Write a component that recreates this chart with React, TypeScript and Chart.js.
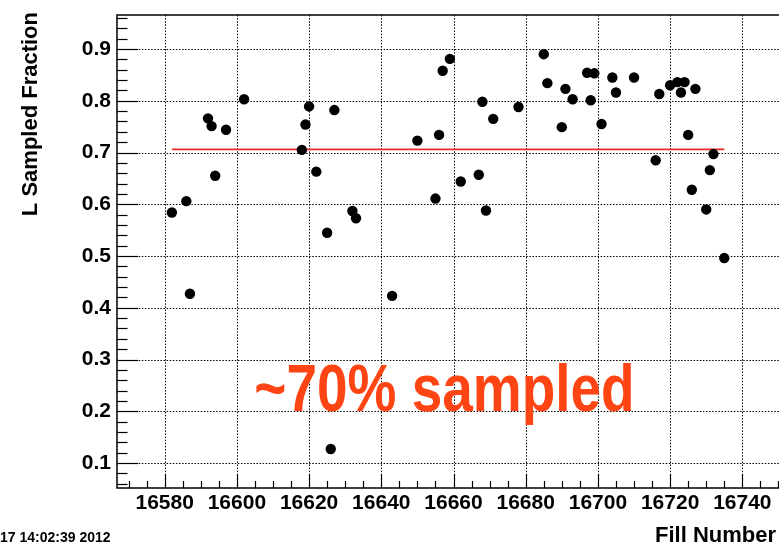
import React, { useEffect, useRef } from 'react';
import { Chart, registerables } from 'chart.js';

Chart.register(...registerables);

// ---- data ----
const fillNumbers = [
  16582, 16586, 16587, 16592, 16593, 16594, 16597, 16602, 16618, 16619,
  16620, 16622, 16625, 16626, 16627, 16632, 16633, 16643, 16650, 16655,
  16656, 16657, 16659, 16662, 16667, 16668, 16669, 16671, 16678, 16685,
  16686, 16690, 16691, 16693, 16697, 16698, 16699, 16701, 16704, 16705,
  16710, 16716, 16717, 16720, 16722, 16723, 16724, 16725, 16726, 16727,
  16730, 16731, 16732, 16735,
];
const sampledFractions = [
  0.584, 0.606, 0.427, 0.766, 0.751, 0.655, 0.744, 0.803, 0.705, 0.754,
  0.789, 0.663, 0.545, 0.127, 0.782, 0.587, 0.573, 0.423, 0.723, 0.611,
  0.734, 0.858, 0.881, 0.644, 0.657, 0.798, 0.588, 0.765, 0.788, 0.890,
  0.834, 0.749, 0.823, 0.803, 0.854, 0.801, 0.853, 0.755, 0.845, 0.816,
  0.845, 0.685, 0.813, 0.830, 0.836, 0.816, 0.836, 0.734, 0.628, 0.823,
  0.590, 0.666, 0.697, 0.496,
];
const meanFraction = 0.706;
const meanFillRange = [16582, 16735];

const xTickValues = [16580, 16600, 16620, 16640, 16660, 16680, 16700, 16720, 16740];
const yTickValues = [0.1, 0.2, 0.3, 0.4, 0.5, 0.6, 0.7, 0.8, 0.9];

const xAxisTitle = 'Fill Number';
const yAxisTitle = 'L Sampled Fraction';
const annotationText = '~70% sampled';
const annotationAt = { x: 16657.5, y: 0.2 };
const timestampText = '17 14:02:39 2012';

const X_MIN = 16566.8;
const X_MAX = 16753.2;
const Y_MIN = 0.0517;
const Y_MAX = 0.9657;

const FONT = '"Liberation Sans", Arial, Helvetica, sans-serif';

const framePlugin = {
  id: 'rootFrame',
  beforeDatasetsDraw(chart: any) {
    const { ctx, chartArea: a, scales } = chart;
    const xs = scales.x;
    const ys = scales.y;
    ctx.save();
    // dotted grid
    ctx.strokeStyle = '#000';
    ctx.lineWidth = 1;
    ctx.setLineDash([1.5, 1.6]);
    for (const v of xTickValues) {
      const px = Math.round(xs.getPixelForValue(v)) + 0.5;
      ctx.beginPath();
      ctx.moveTo(px, a.top);
      ctx.lineTo(px, a.bottom);
      ctx.stroke();
    }
    for (const v of yTickValues) {
      const py = Math.round(ys.getPixelForValue(v)) + 0.5;
      ctx.beginPath();
      ctx.moveTo(a.left, py);
      ctx.lineTo(a.right, py);
      ctx.stroke();
    }
    ctx.setLineDash([]);
    ctx.strokeStyle = '#000';
    ctx.lineWidth = 1.2;
    // y ticks (left, inward)
    for (let k = Math.ceil(Y_MIN / 0.02); k <= Math.floor(Y_MAX / 0.02); k++) {
      const py = Math.round(ys.getPixelForValue(k * 0.02)) + 0.5;
      const len = k % 5 === 0 ? 21 : 10.5;
      ctx.beginPath();
      ctx.moveTo(a.left, py);
      ctx.lineTo(a.left + len, py);
      ctx.stroke();
    }
    // x ticks (bottom, inward)
    for (let k = Math.ceil(X_MIN / 5); k <= Math.floor(X_MAX / 5); k++) {
      const px = Math.round(xs.getPixelForValue(k * 5)) + 0.5;
      const len = k % 4 === 0 ? 14 : 7;
      ctx.beginPath();
      ctx.moveTo(px, a.bottom);
      ctx.lineTo(px, a.bottom - len);
      ctx.stroke();
    }
    // frame
    ctx.lineWidth = 1.5;
    ctx.strokeRect(a.left, a.top, a.right - a.left, a.bottom - a.top);
    ctx.restore();
  },
  afterDatasetsDraw(chart: any) {
    const { ctx, scales } = chart;
    ctx.save();
    ctx.fillStyle = '#ff4514';
    ctx.font = 'bold 67px ' + FONT;
    ctx.textAlign = 'center';
    ctx.textBaseline = 'alphabetic';
    ctx.translate(
      scales.x.getPixelForValue(annotationAt.x),
      scales.y.getPixelForValue(annotationAt.y)
    );
    ctx.scale(0.82, 1);
    ctx.fillText(annotationText, 0, 0);
    ctx.restore();
  },
  afterDraw(chart: any) {
    const { ctx } = chart;
    ctx.save();
    ctx.fillStyle = '#000';
    // y axis title
    ctx.font = 'bold 22px ' + FONT;
    ctx.save();
    ctx.translate(37, 12);
    ctx.rotate(-Math.PI / 2);
    ctx.textAlign = 'right';
    ctx.textBaseline = 'alphabetic';
    ctx.fillText(yAxisTitle, 0, 0);
    ctx.restore();
    // x axis title
    ctx.textAlign = 'right';
    ctx.textBaseline = 'alphabetic';
    ctx.fillText(xAxisTitle, 776, 542);
    // timestamp
    ctx.font = 'bold 14px ' + FONT;
    ctx.textAlign = 'left';
    ctx.fillText(timestampText, 0, 542);
    ctx.restore();
  },
};

export default function App() {
  const canvasRef = useRef<HTMLCanvasElement | null>(null);

  useEffect(() => {
    const canvas = canvasRef.current;
    if (!canvas) return;
    const chart = new Chart(canvas, {
      type: 'scatter',
      data: {
        datasets: [
          {
            type: 'scatter',
            data: fillNumbers.map((f, i) => ({ x: f, y: sampledFractions[i] })),
            pointRadius: 5.2,
            pointHoverRadius: 5.2,
            backgroundColor: '#000',
            borderColor: '#000',
            borderWidth: 0,
            order: 0,
          },
          {
            type: 'line',
            data: meanFillRange.map((f) => ({ x: f, y: meanFraction })),
            borderColor: '#ec2a2a',
            borderWidth: 1.6,
            pointRadius: 0,
            fill: false,
            order: 1,
          },
        ],
      } as any,
      options: {
        animation: false,
        responsive: false,
        devicePixelRatio: 1,
        layout: { padding: { top: 15, right: 10, left: 0, bottom: 0 } },
        plugins: { legend: { display: false }, tooltip: { enabled: false } },
        scales: {
          x: {
            type: 'linear',
            min: X_MIN,
            max: X_MAX,
            grid: { display: false, drawTicks: false },
            border: { display: false },
            afterBuildTicks: (scale: any) => {
              scale.ticks = xTickValues.map((v) => ({ value: v }));
            },
            afterFit: (scale: any) => {
              scale.height = 56;
              scale.paddingLeft = 0;
              scale.paddingRight = 0;
            },
            ticks: {
              callback: (v: any) => String(v),
              color: '#000',
              font: { family: FONT, size: 21, weight: 'bold' },
              padding: 3,
              maxRotation: 0,
              autoSkip: false,
            },
          },
          y: {
            type: 'linear',
            min: Y_MIN,
            max: Y_MAX,
            grid: { display: false, drawTicks: false },
            border: { display: false },
            afterBuildTicks: (scale: any) => {
              scale.ticks = yTickValues.map((v) => ({ value: v }));
            },
            afterFit: (scale: any) => {
              scale.width = 117;
              scale.paddingTop = 0;
              scale.paddingBottom = 0;
            },
            ticks: {
              callback: (v: any) => Number(v).toFixed(1),
              color: '#000',
              font: { family: FONT, size: 21, weight: 'bold' },
              padding: 6,
              autoSkip: false,
            },
          },
        },
      } as any,
      plugins: [framePlugin],
    });
    return () => chart.destroy();
  }, []);

  return (
    <div
      style={{
        position: 'fixed',
        left: 0,
        top: 0,
        width: 779,
        height: 544,
        overflow: 'hidden',
        background: '#fff',
      }}
    >
      <canvas ref={canvasRef} width={800} height={544} style={{ display: 'block' }} />
    </div>
  );
}
